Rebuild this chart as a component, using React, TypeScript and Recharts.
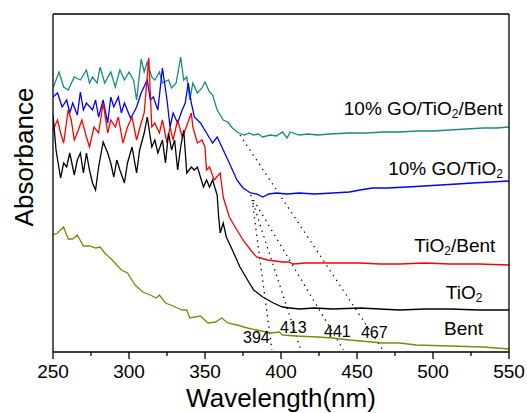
import { LineChart, Line, XAxis, YAxis, ReferenceDot } from 'recharts'

// UV-vis absorbance spectra, arbitrary units, wavelength in nm
const goTiO2Bent = [
  [250, 2.64], [254, 2.8], [257, 2.65], [260, 2.62], [264, 2.75], [268, 2.72], [272, 2.82],
  [274, 2.69], [276, 2.75], [279, 2.69], [281, 2.85], [284, 2.69], [288, 2.8], [291, 2.65],
  [294, 2.82], [297, 2.72], [300, 2.8], [303, 2.72], [305, 2.52], [308, 2.93], [310, 2.8],
  [312, 2.9], [315, 2.75], [317, 2.72], [320, 2.8], [322, 2.69], [326, 2.72], [328, 2.64],
  [331, 2.69], [334, 2.95], [336, 2.72], [338, 2.75], [340, 2.52], [342, 2.69], [345, 2.59],
  [348, 2.64], [350, 2.7], [353, 2.6], [355, 2.57], [358, 2.42], [360, 2.37], [362, 2.32],
  [365, 2.3], [368, 2.24], [372, 2.19], [376, 2.17], [379, 2.19], [382, 2.17], [385, 2.18],
  [388, 2.15], [393, 2.17], [397, 2.16], [401, 2.2], [404, 2.14], [406, 2.2], [412, 2.17],
  [418, 2.18], [424, 2.17], [432, 2.18], [445, 2.19], [456, 2.19], [467, 2.2], [478, 2.2],
  [490, 2.21], [500, 2.21], [511, 2.22], [522, 2.23], [533, 2.24], [542, 2.24], [550, 2.25],
]

const goTiO2 = [
  [250, 2.55], [253, 2.59], [256, 2.45], [259, 2.52], [261, 2.39], [263, 2.49], [266, 2.37],
  [268, 2.6], [270, 2.42], [272, 2.49], [276, 2.42], [278, 2.52], [280, 2.35], [283, 2.52],
  [286, 2.29], [288, 2.55], [290, 2.45], [293, 2.55], [295, 2.39], [297, 2.49], [301, 2.34],
  [303, 2.39], [305, 2.45], [308, 2.59], [312, 2.72], [314, 2.52], [316, 2.55], [319, 2.42],
  [322, 2.84], [325, 2.52], [327, 2.25], [329, 2.39], [332, 2.29], [335, 2.42], [337, 2.49],
  [339, 2.69], [341, 2.49], [343, 2.35], [347, 2.29], [351, 2.19], [355, 2.09], [358, 2.15],
  [362, 2.02], [366, 1.89], [371, 1.72], [375, 1.64], [380, 1.59], [384, 1.58], [388, 1.55],
  [392, 1.58], [397, 1.59], [404, 1.58], [412, 1.59], [422, 1.58], [434, 1.59], [445, 1.6],
  [452, 1.62], [460, 1.64], [470, 1.64], [483, 1.65], [494, 1.66], [505, 1.67], [516, 1.68],
  [526, 1.69], [538, 1.7], [550, 1.71],
]

const tiO2Bent = [
  [250, 2.22], [253, 2.32], [255, 2.19], [257, 2.09], [260, 2.42], [262, 2.32], [264, 2.12],
  [266, 2.19], [269, 2.32], [272, 2.15], [274, 2.05], [277, 2.25], [280, 2.19], [283, 2.49],
  [286, 2.19], [288, 2.32], [291, 2.25], [293, 2.35], [296, 2.09], [299, 2.25], [302, 2.35],
  [305, 2.12], [308, 2.29], [310, 2.39], [313, 2.94], [315, 2.25], [317, 2.29], [320, 2.19],
  [322, 2.32], [325, 2.09], [327, 2.25], [329, 2.12], [332, 2.32], [335, 2.15], [337, 2.22],
  [341, 2.39], [342, 2.25], [345, 2.09], [348, 2.12], [350, 2.05], [351, 1.82], [353, 1.85],
  [356, 1.72], [360, 1.79], [362, 1.55], [366, 1.35], [371, 1.22], [375, 1.12], [380, 1.02],
  [384, 0.95], [391, 0.92], [396, 0.91], [401, 0.9], [405, 0.9], [408, 0.88], [416, 0.89],
  [424, 0.89], [438, 0.89], [452, 0.89], [465, 0.88], [478, 0.88], [495, 0.89], [511, 0.88],
  [530, 0.88], [550, 0.87],
]

const tiO2 = [
  [250, 2.37], [252, 2.02], [255, 1.74], [257, 1.89], [259, 1.85], [261, 1.99], [262, 1.92],
  [264, 1.77], [266, 1.92], [268, 1.99], [270, 1.79], [272, 1.99], [274, 1.82], [276, 1.69],
  [278, 1.62], [280, 1.85], [283, 2.1], [286, 1.99], [288, 1.89], [290, 1.75], [292, 1.92],
  [294, 1.82], [297, 1.69], [299, 1.89], [302, 2.05], [305, 1.79], [307, 2.02], [310, 2.19],
  [312, 2.35], [315, 2.05], [317, 2.12], [319, 1.99], [322, 2.12], [324, 1.89], [326, 2.19],
  [328, 2.02], [330, 2.12], [332, 1.82], [334, 2.05], [336, 2.22], [338, 1.79], [341, 1.85],
  [343, 1.82], [345, 1.85], [349, 1.65], [351, 1.72], [353, 1.65], [355, 1.72], [358, 1.57],
  [359, 1.35], [360, 1.19], [362, 1.29], [364, 1.15], [368, 1.02], [373, 0.85], [378, 0.72],
  [382, 0.62], [388, 0.55], [395, 0.49], [401, 0.45], [406, 0.44], [412, 0.43], [422, 0.44],
  [434, 0.43], [452, 0.44], [465, 0.43], [478, 0.42], [495, 0.43], [511, 0.43], [530, 0.42],
  [550, 0.42],
]

const bent = [
  [250, 1.17], [253, 1.19], [257, 1.25], [260, 1.13], [263, 1.13], [266, 1.17], [270, 1.06],
  [274, 1.06], [278, 1.04], [281, 1.05], [284, 0.99], [289, 0.92], [295, 0.82], [299, 0.79],
  [304, 0.67], [309, 0.6], [314, 0.57], [318, 0.54], [320, 0.57], [324, 0.49], [329, 0.46],
  [335, 0.42], [338, 0.42], [340, 0.34], [347, 0.36], [352, 0.29], [357, 0.3], [361, 0.34],
  [365, 0.29], [371, 0.27], [378, 0.24], [384, 0.22], [393, 0.19], [399, 0.2], [401, 0.17],
  [410, 0.16], [424, 0.15], [434, 0.14], [445, 0.12], [467, 0.09], [478, 0.09], [489, 0.07],
  [511, 0.06], [533, 0.05], [550, 0.03],
]

// tangent lines to the absorption edges, down to the baseline
const edge394 = [[381, 1.52], [394, 0.02]]
const edge413 = [[381.6, 1.49], [413, 0.02]]
const edge441 = [[380, 1.57], [441, 0.02]]
const edge467 = [[373, 2.17], [467, 0.02]]

const xTicks = [250, 275, 300, 325, 350, 375, 400, 425, 450, 475, 500, 525, 550]

const seriesLabels = [
  { nm: 546, a: 2.37, main: '10% GO/TiO', sub: '2', tail: '/Bent' },
  { nm: 546, a: 1.77, main: '10% GO/TiO', sub: '2', tail: '' },
  { nm: 541, a: 1.0, main: 'TiO', sub: '2', tail: '/Bent' },
  { nm: 532.5, a: 0.53, main: 'TiO', sub: '2', tail: '' },
  { nm: 533, a: 0.17, main: 'Bent', sub: '', tail: '' },
]

const edgeLabels = [
  { nm: 375, a: 0.09, text: '394' },
  { nm: 399.3, a: 0.19, text: '413' },
  { nm: 428.3, a: 0.15, text: '441' },
  { nm: 452.6, a: 0.14, text: '467' },
]

const FONT = '"Liberation Sans", Arial, sans-serif'
const frame = { stroke: '#000', strokeWidth: 1.3 }

const toRows = (pairs: number[][]) => pairs.map(([nm, a]) => ({ nm, a }))

function WaveTick({ x, y, payload }: any) {
  const major = payload.value % 50 === 0
  return (
    <g>
      <line x1={x} x2={x} y1={y} y2={y + (major ? 7 : 4)} stroke="#000" strokeWidth={1.3} />
      {major && (
        <text x={x} y={y + 26} textAnchor="middle" fontSize={19} fontFamily={FONT} fill="#000">
          {payload.value}
        </text>
      )}
    </g>
  )
}

export default function App() {
  const spectra = [
    { rows: toRows(goTiO2Bent), color: '#178b84' },
    { rows: toRows(goTiO2), color: '#0000ff' },
    { rows: toRows(tiO2Bent), color: '#ff0000' },
    { rows: toRows(tiO2), color: '#000000' },
    { rows: toRows(bent), color: '#858512' },
  ]
  const edges = [edge394, edge413, edge441, edge467].map(toRows)

  return (
    <div style={{ position: 'absolute', left: 0, top: 0, background: '#fff' }}>
      <LineChart width={527} height={413} margin={{ top: 13, right: 17, bottom: 0, left: 52 }}>
        <XAxis
          type="number"
          dataKey="nm"
          domain={[250, 550]}
          ticks={xTicks}
          interval={0}
          allowDataOverflow
          height={61}
          tickSize={0}
          tickMargin={0}
          tickLine={false}
          axisLine={frame}
          tick={<WaveTick />}
          label={({ viewBox }: any) => (
            <text
              x={viewBox.x + viewBox.width / 2}
              y={viewBox.y + 55}
              textAnchor="middle"
              fontSize={26}
              fontFamily={FONT}
              fill="#000"
            >
              Wavelength(nm)
            </text>
          )}
        />
        <XAxis
          xAxisId="top"
          orientation="top"
          type="number"
          domain={[250, 550]}
          height={1}
          tick={false}
          tickLine={false}
          axisLine={frame}
        />
        <YAxis
          type="number"
          domain={[0, 3.38]}
          allowDataOverflow
          width={1}
          tick={false}
          tickLine={false}
          axisLine={frame}
          label={({ viewBox }: any) => (
            <text
              transform={`translate(${viewBox.x + viewBox.width - 20},${viewBox.y + 143}) rotate(-90)`}
              textAnchor="middle"
              fontSize={26}
              fontFamily={FONT}
              fill="#000"
            >
              Absorbance
            </text>
          )}
        />
        <YAxis
          yAxisId="right"
          orientation="right"
          type="number"
          domain={[0, 1]}
          width={1}
          tick={false}
          tickLine={false}
          axisLine={frame}
        />

        {edges.map((rows, i) => (
          <Line
            key={'edge' + i}
            data={rows}
            dataKey="a"
            type="linear"
            stroke="#000"
            strokeWidth={1.3}
            strokeDasharray="1.3 4.5"
            dot={false}
            isAnimationActive={false}
          />
        ))}
        {spectra.map((s, i) => (
          <Line
            key={'s' + i}
            data={s.rows}
            dataKey="a"
            type="linear"
            stroke={s.color}
            strokeWidth={1.3}
            dot={false}
            isAnimationActive={false}
          />
        ))}

        {seriesLabels.map((l) => (
          <ReferenceDot
            key={l.main + l.tail + l.a}
            x={l.nm}
            y={l.a}
            r={0}
            fill="none"
            stroke="none"
            label={({ viewBox }: any) => (
              <text x={viewBox.x} y={viewBox.y} textAnchor="end" fontSize={19} fontFamily={FONT} fill="#000">
                {l.main}
                {l.sub && (
                  <tspan fontSize={12} dy={3}>
                    {l.sub}
                  </tspan>
                )}
                {l.tail && (
                  <tspan fontSize={19} dy={-3}>
                    {l.tail}
                  </tspan>
                )}
              </text>
            )}
          />
        ))}
        {edgeLabels.map((l) => (
          <ReferenceDot
            key={l.text}
            x={l.nm}
            y={l.a}
            r={0}
            fill="none"
            stroke="none"
            label={({ viewBox }: any) => (
              <text x={viewBox.x} y={viewBox.y} fontSize={16} fontFamily={FONT} fill="#000">
                {l.text}
              </text>
            )}
          />
        ))}
      </LineChart>
    </div>
  )
}
